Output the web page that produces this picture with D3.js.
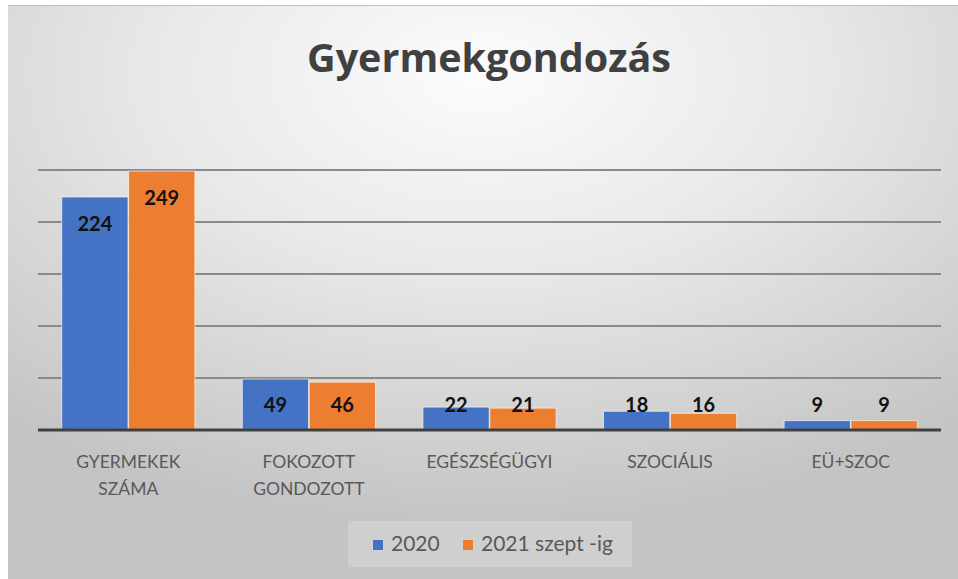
<!DOCTYPE html>
<html>
<head>
<meta charset="utf-8">
<script src="https://cdn.jsdelivr.net/npm/d3@7"></script>
<style>
  body { margin: 0; background: #fff; }
  text { font-family: Lato, "Open Sans", sans-serif; }
</style>
</head>
<body>
<script>
var width = 958, height = 579;

var categories = [["GYERMEKEK", "SZÁMA"], ["FOKOZOTT", "GONDOZOTT"], ["EGÉSZSÉGÜGYI"], ["SZOCIÁLIS"], ["EÜ+SZOC"]];
var seriesNames = ["2020", "2021 szept -ig"];
var values2020 = [224, 49, 22, 18, 9];
var values2021 = [249, 46, 21, 16, 9];
var colors = ["#4472C4", "#ED7D31"];
var yTicks = [0, 50, 100, 150, 200, 250];

var svg = d3.select("body").append("svg").attr("width", width).attr("height", height);

var defs = svg.append("defs");
var grad = defs.append("radialGradient")
  .attr("id", "bg")
  .attr("cx", "50%").attr("cy", "12%").attr("r", "78%")
  .attr("gradientUnits", "objectBoundingBox");
grad.append("stop").attr("offset", "0%").attr("stop-color", "#fcfcfc");
grad.append("stop").attr("offset", "45%").attr("stop-color", "#e8e8e8");
grad.append("stop").attr("offset", "100%").attr("stop-color", "#c4c4c4");

svg.append("rect")
  .attr("x", 8).attr("y", 5)
  .attr("width", width - 8).attr("height", height - 5)
  .attr("fill", "url(#bg)");
svg.append("line")
  .attr("x1", 8).attr("x2", width).attr("y1", 5.5).attr("y2", 5.5)
  .attr("stroke", "#bdbdbd").attr("stroke-width", 1);

svg.append("text")
  .attr("x", 489).attr("y", 72)
  .attr("text-anchor", "middle")
  .style("font-family", "'Open Sans', sans-serif")
  .attr("font-size", 39.5).attr("font-weight", "bold")
  .attr("fill", "#404040")
  .text("Gyermekgondozás");

var plotLeft = 38, plotRight = 941, plotTop = 170, plotBottom = 430;

var x = d3.scaleBand()
  .domain(d3.range(categories.length))
  .range([plotLeft, plotRight])
  .paddingInner(0.263)
  .paddingOuter(0.1315);

var xs = d3.scaleBand()
  .domain([0, 1])
  .range([0, x.bandwidth()])
  .paddingInner(0.01);

var y = d3.scaleLinear().domain([0, 250]).range([plotBottom, plotTop]);

// gridlines
svg.append("g").selectAll("line")
  .data(yTicks.slice(1))
  .join("line")
  .attr("x1", plotLeft).attr("x2", plotRight)
  .attr("y1", d => y(d)).attr("y2", d => y(d))
  .attr("stroke", "#8a8a8a").attr("stroke-width", 2);

var data = [];
categories.forEach(function (c, i) {
  data.push({ cat: i, s: 0, v: values2020[i] });
  data.push({ cat: i, s: 1, v: values2021[i] });
});

svg.append("g").selectAll("rect")
  .data(data)
  .join("rect")
  .attr("x", d => x(d.cat) + xs(d.s))
  .attr("y", d => y(d.v))
  .attr("width", xs.bandwidth())
  .attr("height", d => y(0) - y(d.v))
  .attr("fill", d => colors[d.s])
  .attr("stroke", "#ffffff").attr("stroke-opacity", 0.6).attr("stroke-width", 1);

// baseline
svg.append("line")
  .attr("x1", plotLeft).attr("x2", plotRight)
  .attr("y1", plotBottom).attr("y2", plotBottom)
  .attr("stroke", "#404040").attr("stroke-width", 3);

// data labels
svg.append("g").selectAll("text")
  .data(data)
  .join("text")
  .attr("x", d => x(d.cat) + xs(d.s) + xs.bandwidth() / 2)
  .attr("y", d => Math.min(y(d.v) + 34, y(0) - 18))
  .attr("text-anchor", "middle")
  .attr("font-size", 20).attr("font-weight", "bold")
  .attr("fill", "#111111")
  .text(d => d.v);

// category labels
var cat = svg.append("g").selectAll("text")
  .data(categories)
  .join("text")
  .attr("x", (d, i) => x(i) + x.bandwidth() / 2)
  .attr("y", 468)
  .attr("text-anchor", "middle")
  .attr("font-size", 17.5)
  .attr("fill", "#595959");
cat.selectAll("tspan")
  .data(d => d)
  .join("tspan")
  .attr("x", function () { return d3.select(this.parentNode).attr("x"); })
  .attr("dy", (d, i) => i === 0 ? 0 : 27)
  .text(d => d);

// legend
var legend = svg.append("g");
legend.append("rect")
  .attr("x", 348).attr("y", 521).attr("width", 284).attr("height", 46)
  .attr("fill", "#ffffff").attr("fill-opacity", 0.2);
var legendX = [373, 463];
seriesNames.forEach(function (name, i) {
  legend.append("rect")
    .attr("x", legendX[i]).attr("y", 540).attr("width", 10).attr("height", 10)
    .attr("fill", colors[i]);
  legend.append("text")
    .attr("x", legendX[i] + 18).attr("y", 551)
    .attr("font-size", 21).attr("fill", "#595959")
    .text(name);
});
</script>
</body>
</html>
